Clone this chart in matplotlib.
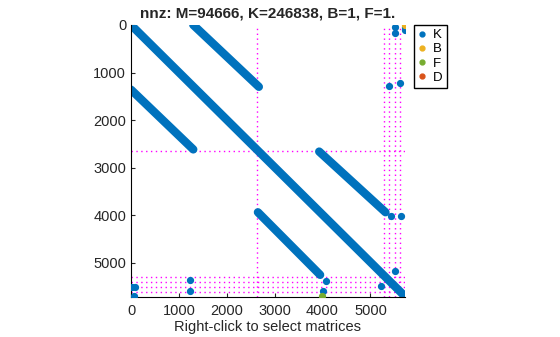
import matplotlib.pyplot as plt

# matrix size and block partitions
n_size = 5720
part_lines = [2640, 5285, 5395, 5505, 5615]

# diagonal bands of K: start col/row -> end col/row
band_c0 = [0, 1300, 0, 3930, 2650]
band_r0 = [0, 0, 1360, 2660, 3935]
band_c1 = [5720, 2670, 1300, 5315, 3950]
band_r1 = [5700, 1300, 2615, 3935, 5250]

# isolated K entries
k_cols = [5510, 5510, 5720, 5720, 5385, 5615, 5420, 5635, 5510,
          5230, 30, 90, 1240, 1240, 4075, 4005, 60]
k_rows = [40, 160, 40, 100, 1290, 1220, 4010, 4010, 5160,
          5490, 5495, 5495, 5355, 5580, 5385, 5590, 5700]

b_cols, b_rows = [5720], [0]
f_cols, f_rows = [3985], [5700]
m_cols, m_rows = [20], [5700]

labels = ['K', 'B', 'F', 'D']
colors = ['#0072BD', '#EDB120', '#77AC30', '#D95319']

plt.rcParams['font.family'] = ['Liberation Sans', 'DejaVu Sans']
fig = plt.figure(figsize=(5.6, 3.37), dpi=100)
ax = fig.add_axes([0.234, 0.118, 0.489, 0.808])

for p in part_lines:
    ax.axvline(p, color='#FF00FF', ls=(0, (1, 2.5)), lw=1.0, zorder=1)
    ax.axhline(p, color='#FF00FF', ls=(0, (1, 2.5)), lw=1.0, zorder=1)

for c0, r0, c1, r1 in zip(band_c0, band_r0, band_c1, band_r1):
    ax.plot([c0, c1], [r0, r1], color=colors[0], lw=6,
            solid_capstyle='round', zorder=2)

ax.plot(m_cols, m_rows, 'o', color='#C8C8C8', ms=4.2, zorder=2)
ax.plot(k_cols, k_rows, 'o', color=colors[0], ms=4.2, zorder=3)
ax.plot(b_cols, b_rows, 'o', color=colors[1], ms=4.2, zorder=4)
ax.plot(f_cols, f_rows, 'o', color=colors[2], ms=4.2, zorder=4)

# legend handles
for lab, col in zip(labels, colors):
    ax.plot([], [], 'o', color=col, ms=3.5, label=lab)
ax.legend(loc='upper left', bbox_to_anchor=(1.035, 1.0), frameon=True,
          fancybox=False, edgecolor='black', fontsize=9.5, handlelength=0.5,
          handletextpad=0.6, borderpad=0.3, labelspacing=0.15,
          borderaxespad=0, framealpha=1)

ax.set_xlim(0, n_size)
ax.set_ylim(n_size, 0)
ax.set_xticks([0, 1000, 2000, 3000, 4000, 5000])
ax.set_yticks([0, 1000, 2000, 3000, 4000, 5000])
ax.tick_params(direction='in', labelsize=10.5, colors='#262626', length=3)
ax.tick_params(axis='x', pad=5)
ax.spines['top'].set_visible(False)
ax.spines['right'].set_visible(False)
ax.set_title('nnz: M=94666, K=246838, B=1, F=1.', fontsize=11,
             fontweight='bold', color='#262626', pad=5)
ax.set_xlabel('Right-click to select matrices', fontsize=10.5, color='#262626',
              labelpad=1)

fig.savefig('out.png', dpi=100)
